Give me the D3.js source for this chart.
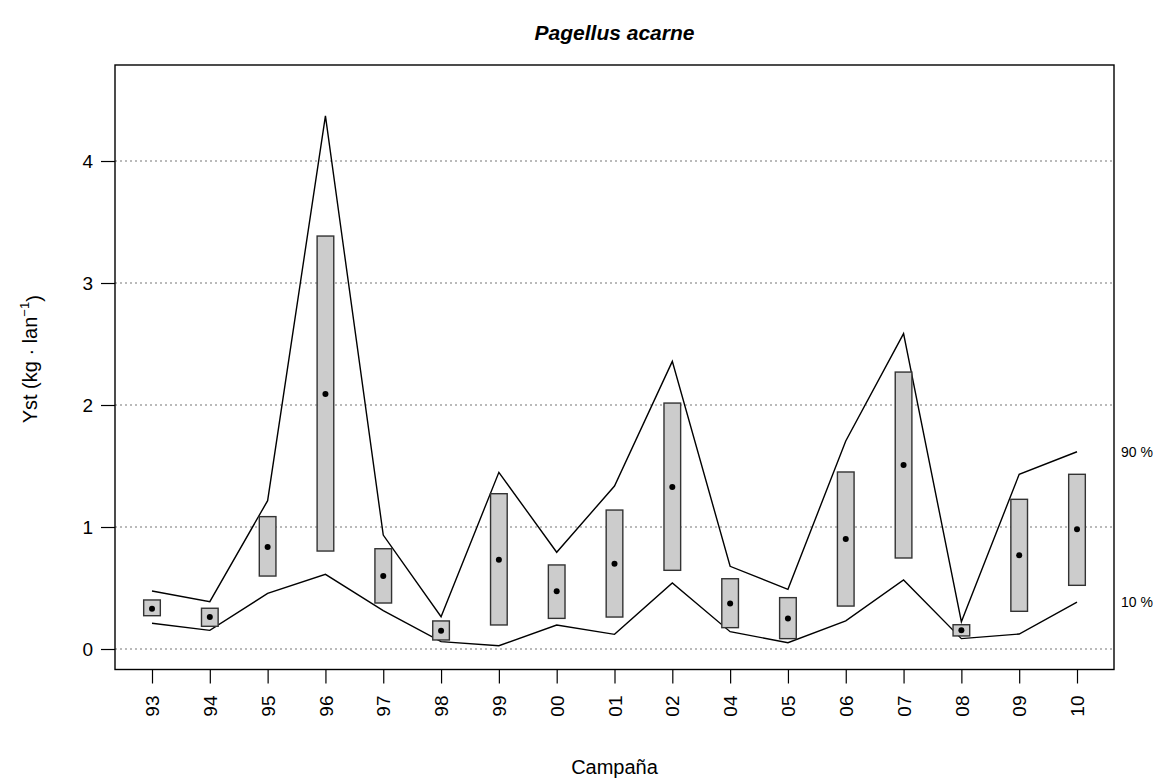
<!DOCTYPE html>
<html>
<head>
<meta charset="utf-8">
<script src="https://cdn.jsdelivr.net/npm/d3@7"></script>
<style>
  html, body { margin: 0; padding: 0; background: #fff; }
  svg { display: block; font-family: "Liberation Sans", Arial, sans-serif; }
</style>
</head>
<body>
<svg id="chart" width="1159" height="779"></svg>
<script>
// ---- data ----
const campaigns = ["93","94","95","96","97","98","99","00","01","02","04","05","06","07","08","09","10"];
const meanVals  = [0.330,0.262,0.836,2.090,0.598,0.150,0.732,0.473,0.699,1.328,0.374,0.251,0.902,1.508,0.153,0.768,0.981];
const boxLow    = [0.273,0.186,0.598,0.803,0.377,0.074,0.197,0.251,0.262,0.645,0.175,0.085,0.352,0.746,0.107,0.309,0.522];
const boxHigh   = [0.402,0.334,1.085,3.385,0.822,0.230,1.273,0.689,1.139,2.016,0.576,0.421,1.451,2.270,0.199,1.227,1.432];
const p90       = [0.475,0.388,1.216,4.370,0.934,0.265,1.448,0.793,1.336,2.358,0.678,0.489,1.705,2.585,0.224,1.432,1.617];
const p10       = [0.211,0.153,0.456,0.612,0.314,0.060,0.027,0.197,0.120,0.541,0.142,0.052,0.230,0.566,0.085,0.123,0.385];
const yTicks    = [0, 1, 2, 3, 4];
const pctLabels = ["90 %", "10 %"];
const title = "Pagellus acarne";
const xTitle = "Campaña";

// ---- layout ----
const L = 115, R = 1114, T = 65, B = 669.5;
const svg = d3.select("#chart");

const x = d3.scalePoint().domain(campaigns).range([L, R]).padding(0.64);
const y = d3.scaleLinear().domain([-0.168, 4.787]).range([B, T]);
const halfW = x.step() * 0.144;

const rows = campaigns.map((c, i) => ({c, mean: meanVals[i], lo: boxLow[i], hi: boxHigh[i], u: p90[i], l: p10[i]}));

// grid
svg.append("g").selectAll("line").data(yTicks).join("line")
  .attr("x1", L).attr("x2", R)
  .attr("y1", d => y(d)).attr("y2", d => y(d))
  .attr("stroke", "#777").attr("stroke-width", 1.1)
  .attr("stroke-dasharray", "2,3");

// lines
const line = key => d3.line().x(d => x(d.c)).y(d => y(d[key]));
svg.append("path").datum(rows).attr("d", line("u"))
  .attr("fill", "none").attr("stroke", "#000").attr("stroke-width", 1.4);
svg.append("path").datum(rows).attr("d", line("l"))
  .attr("fill", "none").attr("stroke", "#000").attr("stroke-width", 1.4);

// boxes
svg.append("g").selectAll("rect").data(rows).join("rect")
  .attr("x", d => x(d.c) - halfW).attr("width", 2 * halfW)
  .attr("y", d => y(d.hi)).attr("height", d => y(d.lo) - y(d.hi))
  .attr("fill", "#cccccc").attr("stroke", "#333").attr("stroke-width", 1.4);

// mean points
svg.append("g").selectAll("circle").data(rows).join("circle")
  .attr("cx", d => x(d.c)).attr("cy", d => y(d.mean)).attr("r", 3)
  .attr("fill", "#000");

// frame
svg.append("rect").attr("x", L).attr("y", T).attr("width", R - L).attr("height", B - T)
  .attr("fill", "none").attr("stroke", "#000").attr("stroke-width", 1.4);

// x axis
const gx = svg.append("g").attr("transform", `translate(0,${B})`)
  .call(d3.axisBottom(x).tickSize(14).tickSizeOuter(0));
gx.select(".domain").remove();
gx.selectAll(".tick line").attr("stroke", "#000").attr("stroke-width", 1.2);
gx.selectAll(".tick text")
  .attr("font-family", "Liberation Sans, Arial, sans-serif")
  .attr("font-size", 19).attr("fill", "#000")
  .attr("text-anchor", "end")
  .attr("y", 0)
  .attr("transform", "translate(0,26) rotate(-90)")
  .attr("dy", "0.35em");

// y axis
const gy = svg.append("g").attr("transform", `translate(${L},0)`)
  .call(d3.axisLeft(y).tickValues(yTicks).tickFormat(d3.format("d")).tickSize(14).tickSizeOuter(0));
gy.select(".domain").remove();
gy.selectAll(".tick line").attr("stroke", "#000").attr("stroke-width", 1.2);
gy.selectAll(".tick text")
  .attr("font-family", "Liberation Sans, Arial, sans-serif")
  .attr("font-size", 19).attr("fill", "#000")
  .attr("x", -22);

// percentile labels at the last values
const last = rows[rows.length - 1];
svg.append("g").selectAll("text").data([last.u, last.l]).join("text")
  .attr("x", 1121).attr("y", d => y(d)).attr("dy", "0.35em")
  .attr("font-size", 14).attr("fill", "#000")
  .text((d, i) => pctLabels[i]);

// title
svg.append("text").attr("x", (L + R) / 2).attr("y", 40)
  .attr("text-anchor", "middle").attr("font-size", 21)
  .attr("font-weight", "bold").attr("font-style", "italic")
  .text(title);

// x title
svg.append("text").attr("x", (L + R) / 2).attr("y", 774)
  .attr("text-anchor", "middle").attr("font-size", 20)
  .text(xTitle);

// y title
const yt = svg.append("text")
  .attr("transform", `translate(37,${(T + B) / 2 - 8}) rotate(-90)`)
  .attr("text-anchor", "middle").attr("font-size", 20);
yt.append("tspan").text("Yst (kg · lan");
yt.append("tspan").attr("dy", "-0.6em").attr("font-size", 13).text("−1");
yt.append("tspan").attr("dy", "0.6em").text(")");
</script>
</body>
</html>
